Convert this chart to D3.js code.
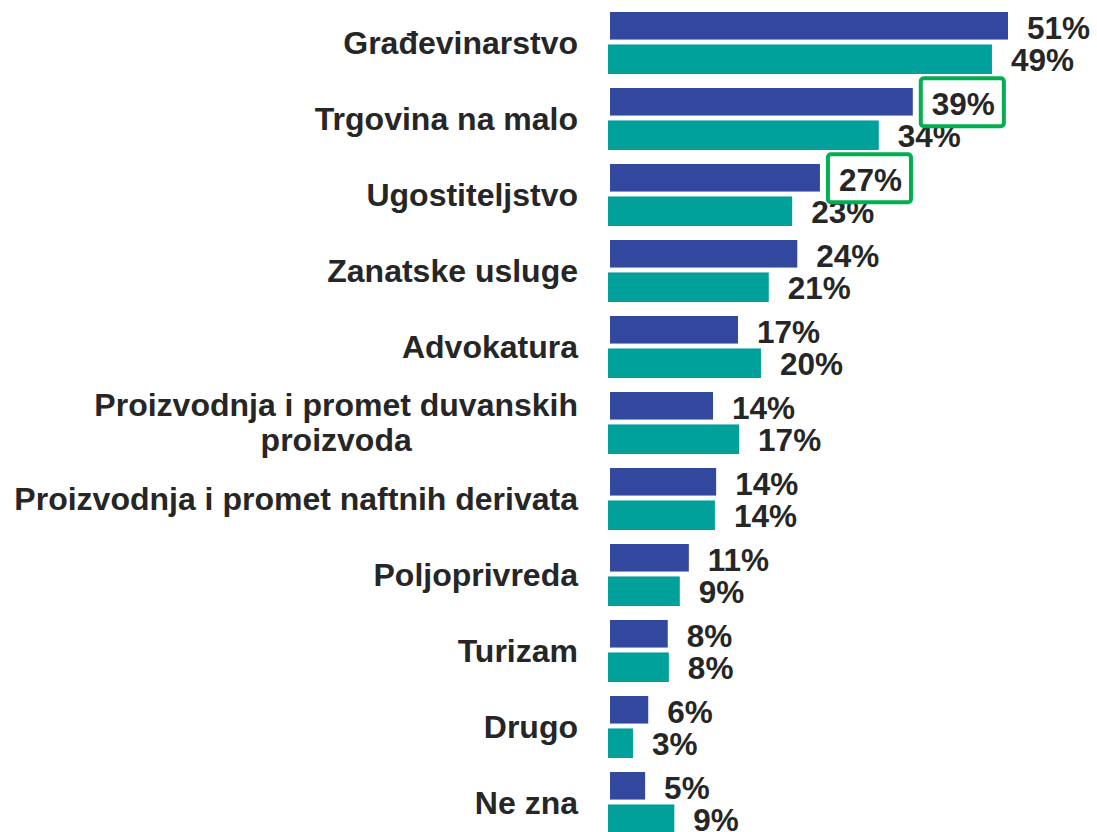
<!DOCTYPE html>
<html>
<head>
<meta charset="utf-8">
<script src="https://cdn.jsdelivr.net/npm/d3@7"></script>
<style>
  html, body { margin: 0; padding: 0; background: #ffffff; }
  svg { display: block; }
  text { font-family: "Liberation Sans", Arial, sans-serif; font-weight: bold; fill: #262626; }
</style>
</head>
<body>
<svg id="chart" width="1097" height="832"></svg>
<script>
// ---- data ----
const categories = [
  "Građevinarstvo",
  "Trgovina na malo",
  "Ugostiteljstvo",
  "Zanatske usluge",
  "Advokatura",
  "Proizvodnja i promet duvanskih\nproizvoda",
  "Proizvodnja i promet naftnih derivata",
  "Poljoprivreda",
  "Turizam",
  "Drugo",
  "Ne zna"
];
// bar values (percent) and the printed labels
const seriesA = [51.0, 38.8, 26.9, 24.0, 16.4, 13.2, 13.6, 10.1, 7.4, 4.9, 4.5];
const seriesB = [49.2, 34.7, 23.6, 20.6, 19.6, 16.8, 13.7, 9.2, 7.8, 3.2, 8.5];
const labelsA = ["51%", "39%", "27%", "24%", "17%", "14%", "14%", "11%", "8%", "6%", "5%"];
const labelsB = ["49%", "34%", "23%", "21%", "20%", "17%", "14%", "9%", "8%", "3%", "9%"];
const highlightedA = ["Trgovina na malo", "Ugostiteljstvo"];

const colorA = "#32479E";
const colorB = "#00A09B";
const boxColor = "#00B050";

const svg = d3.select("#chart");

const x = d3.scaleLinear().domain([0, 51]).range([609, 1007]);
const y = d3.scaleBand().domain(categories).range([12, 833]).paddingInner(15 / 76).paddingOuter(0);
const sub = d3.scaleBand().domain(["A", "B"]).range([0, y.bandwidth()]).paddingInner(0.12);

const rows = categories.map((c, i) => ({
  cat: c, a: seriesA[i], b: seriesB[i], la: labelsA[i], lb: labelsB[i]
}));

const g = svg.append("g");

// category labels
const catFont = 32;
rows.forEach(r => {
  const lines = r.cat.split("\n");
  const cy = y(r.cat) + y.bandwidth() / 2;
  const t = g.append("text")
    .attr("font-size", catFont)
    .attr("text-anchor", "end");
  const lh = 35;
  lines.forEach((ln, k) => {
    t.append("tspan")
      .attr("x", 578)
      .attr("y", cy + catFont * 0.35 + (k - (lines.length - 1) / 2) * lh)
      .text(ln);
  });
  if (lines.length > 1) {
    // center-align the block, right edge of the widest line at 578
    const spans = t.selectAll("tspan").nodes();
    const widths = spans.map(s => s.getComputedTextLength());
    const maxW = d3.max(widths);
    t.attr("text-anchor", "middle");
    t.selectAll("tspan").attr("x", 578 - maxW / 2);
  }
});

// bars
g.selectAll("rect.a").data(rows).join("rect")
  .attr("class", "a")
  .attr("x", x(0) + 1)
  .attr("y", d => y(d.cat) + sub("A"))
  .attr("width", d => x(d.a) - x(0))
  .attr("height", sub.bandwidth() - 1)
  .attr("fill", colorA);

g.selectAll("rect.b").data(rows).join("rect")
  .attr("class", "b")
  .attr("x", x(0) - 1)
  .attr("y", d => y(d.cat) + sub("B"))
  .attr("width", d => x(d.b) - x(0))
  .attr("height", sub.bandwidth() + 1)
  .attr("fill", colorB);

// value labels
const valFont = 31.5;
const capOff = valFont * 0.36 + 1;
g.selectAll("text.la").data(rows).join("text")
  .attr("class", "la")
  .attr("font-size", valFont)
  .attr("x", d => x(d.a) + 20)
  .attr("y", d => y(d.cat) + sub("A") + sub.bandwidth() / 2 + capOff)
  .text(d => d.la);

g.selectAll("text.lb").data(rows).join("text")
  .attr("class", "lb")
  .attr("font-size", valFont)
  .attr("x", d => x(d.b) + 18)
  .attr("y", d => y(d.cat) + sub("B") + sub.bandwidth() / 2 + capOff)
  .text(d => d.lb);

// highlight boxes
g.selectAll("text.la").filter(d => highlightedA.includes(d.cat)).each(function(d) {
  const bb = this.getBBox();
  const cy = y(d.cat) + sub("A") + sub.bandwidth() / 2;
  g.append("rect")
    .attr("x", x(d.a) + 9)
    .attr("y", cy - 24)
    .attr("width", bb.width + 20)
    .attr("height", 48)
    .attr("rx", 3)
    .attr("fill", "none")
    .attr("stroke", boxColor)
    .attr("stroke-width", 4);
});
</script>
</body>
</html>
